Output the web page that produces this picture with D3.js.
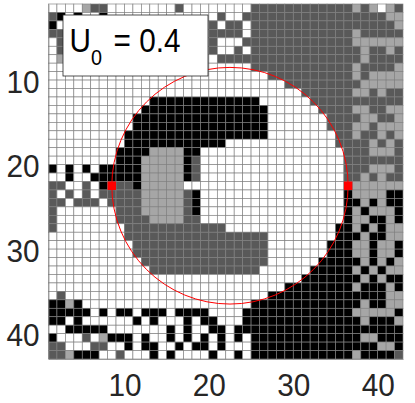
<!DOCTYPE html>
<html><head><meta charset="utf-8">
<style>html,body{margin:0;padding:0;background:#fff}svg{display:block}</style>
<script src="https://cdn.jsdelivr.net/npm/d3@7"></script></head>
<body><div id="c"></div>
<script>
const tickValues = [10, 20, 30, 40];
const legendValue = "= 0.4";
const circleCenter = [22.5, 22.5];
const circleRadius = 14;
const redCells = [[8, 22], [36, 22]];
const stateColors = {".": "#ffffff", "a": "#a6a6a6", "d": "#595959", "k": "#000000"};
const gridRows = [
"....add..." + ".....d...." + "....dddddd" + "ddddddada." + "ad",
"dk.k..k..." + ".........." + "d..ddddddd" + "dddddddddd" + "aa",
"k........." + ".........d" + ".dd.dddddd" + "dddddddddd" + "da",
"dd........" + ".........d" + "ddd.dddddd" + "ddddddaddd" + "dd",
".d........" + ".........d" + "...ddddddd" + "ddddddaaaa" + "aa",
".d........" + ".........d" + "..d.dddddd" + "dddddddadd" + "ad",
".a........" + ".........." + "dddddddddd" + "dddddddadd" + "dd",
".........." + ".........." + "....dddddd" + "ddddddaddd" + "da",
".........." + ".........." + "......dddd" + "ddddddadaa" + "aa",
".........." + ".........." + "........dd" + "dddddddaaa" + "aa",
".........." + ".........." + ".........." + "ddddddaada" + "dd",
".........." + "..kkkkkkkk" + "kkkkk....." + ".ddddddddd" + "dd",
".........." + ".kkkkkkkkk" + "kkkkkk...." + "..ddddaadd" + "aa",
".........." + "kkkkkkkkkk" + "kkkkkk...." + "...ddddaad" + "da",
".........." + "kkkkkkkkkk" + "kkkkkk...." + "...dddaada" + "aa",
".........k" + "kkkkkkkkkk" + "kkkkkk...." + "....ddadda" + "da",
".........k" + "kkkkkkkkkk" + "k........." + "....ddddad" + "ad",
"........kk" + "kkaaaakk.." + ".........." + ".....dddaa" + "ad",
"........kk" + "kaaaaakd.." + ".........." + ".....ddddd" + "dd",
"k.k.k.kkkk" + "kaaaaakd.." + ".........." + ".....dddaa" + "ad",
"..k..kkkkk" + "kaaaaakd.." + ".........." + ".....ddada" + "dd",
"dd..d.kkdd" + "kaaaaa...." + ".........." + ".....daaaa" + "aa",
"d.d.d.dddd" + "daaaaadk.." + ".........." + ".....kaaaa" + "kk",
"dd.ddd.ddd" + "daaaaadk.." + ".........." + ".....kkaka" + "kk",
"d.......dd" + "daaaaadk.." + ".........." + ".....kakaa" + "ak",
"d.......dd" + "ddaaaadd.." + ".........." + ".....kaakk" + "ak",
"d........d" + "dddddddddd" + "d........." + "....kkakak" + "aa",
".........d" + "dddddddddd" + "dddddd...." + "....kkkakk" + "aa",
".........." + "dddddddddd" + "dddddd...." + "...kkkaaka" + "ak",
".........." + "dddddddddd" + "dddddd...." + "...kkkaaka" + "ak",
".........." + ".ddddddddd" + "dddddd...." + "..kkkkkaka" + "ka",
".........." + "..dddddddd" + "ddddd....." + ".kkkkkakak" + "aa",
".........." + ".........." + ".........." + "kkkkkkkaka" + "kk",
".........." + ".........." + "........kk" + "kkkkkkakkk" + "ak",
".d........" + ".........." + "......kkkk" + "kkkkkkkkkk" + "aa",
"kkak......" + ".........." + "....kkkkkk" + "kkkkkkkakk" + "aa",
"kkkkk.k.kk" + ".kkk.kkkk." + "...kkkkkkk" + "kkkkkkaaaa" + "ak",
"kk.k......" + "k.k...k.kk" + "...kkkkkkk" + "kkkkkkkakk" + "ka",
"..kkkkk..." + "....k.k..k" + "k.kkkkkkkk" + "kkkkkkkkkk" + "kk",
"k...d.akkk" + ".k..k.k.k." + "k.k.kkkkkk" + "kkkkkkkaak" + "kk",
"dd...dd..k" + ".kk..k.kk." + "k...kkkkkk" + "kkkkkkkkka" + "ak",
"ddakkk..d." + "..k.k....k" + "..k.kkkkkk" + "kkkkkkakkk" + "kd"
];

const W = 415, H = 403;
const x = d3.scaleLinear().domain([1, 43]).range([48.5, 403]);
const y = d3.scaleLinear().domain([1, 43]).range([4, 359]);
const svg = d3.select("#c").append("svg").attr("width", W).attr("height", H);

const cells = gridRows.flatMap((row, r) => Array.from(row, (s, c) => ({c: c + 1, r: r + 1, s})));
svg.append("g").selectAll("rect").data(cells).join("rect")
  .attr("x", d => x(d.c)).attr("y", d => y(d.r))
  .attr("width", x(2) - x(1)).attr("height", y(2) - y(1))
  .attr("fill", d => stateColors[d.s])
  .attr("stroke", "#808080").attr("stroke-width", 0.65);

svg.append("g").selectAll("rect").data(redCells).join("rect")
  .attr("x", d => x(d[0])).attr("y", d => y(d[1]))
  .attr("width", x(2) - x(1)).attr("height", y(2) - y(1))
  .attr("fill", "#ff0000");

svg.append("ellipse")
  .attr("cx", x(circleCenter[0])).attr("cy", y(circleCenter[1]))
  .attr("rx", x(circleRadius) - x(0)).attr("ry", y(circleRadius) - y(0))
  .attr("fill", "none").attr("stroke", "#ff0000").attr("stroke-width", 1);

const font = "'Liberation Sans', Arial, sans-serif";
const xAxis = svg.append("g").attr("transform", `translate(0,${y(43)})`)
  .call(d3.axisBottom(x).tickValues(tickValues).tickSize(0).tickPadding(15));
const yAxis = svg.append("g").attr("transform", `translate(${x(1)},0)`)
  .call(d3.axisLeft(y).tickValues(tickValues).tickSize(0));
[xAxis, yAxis].forEach(g => {
  g.select(".domain").attr("stroke", "#808080").attr("stroke-width", 0.7);
  g.selectAll("text").attr("font-family", font).attr("fill", "#262626");
});
xAxis.selectAll("text").attr("font-size", 31).attr("transform", "scale(0.96,1)");
yAxis.selectAll("text").attr("font-size", 32).attr("x", 0).attr("dy", 12.3)
  .attr("transform", "translate(-9,0) scale(0.93,1)");

const legend = svg.append("g");
legend.append("rect").attr("x", 63).attr("y", 15).attr("width", 145).attr("height", 61)
  .attr("fill", "#fff").attr("stroke", "#262626").attr("stroke-width", 0.8);
const t = legend.append("text").attr("transform", "translate(69.6,52) scale(0.9,1)")
  .attr("font-family", font).attr("font-size", 33).attr("fill", "#000");
t.append("tspan").text("U");
t.append("tspan").attr("dy", 13).attr("font-size", 22).text("0");
t.append("tspan").attr("dy", -13).attr("dx", 12.8).text(legendValue);
</script></body></html>
